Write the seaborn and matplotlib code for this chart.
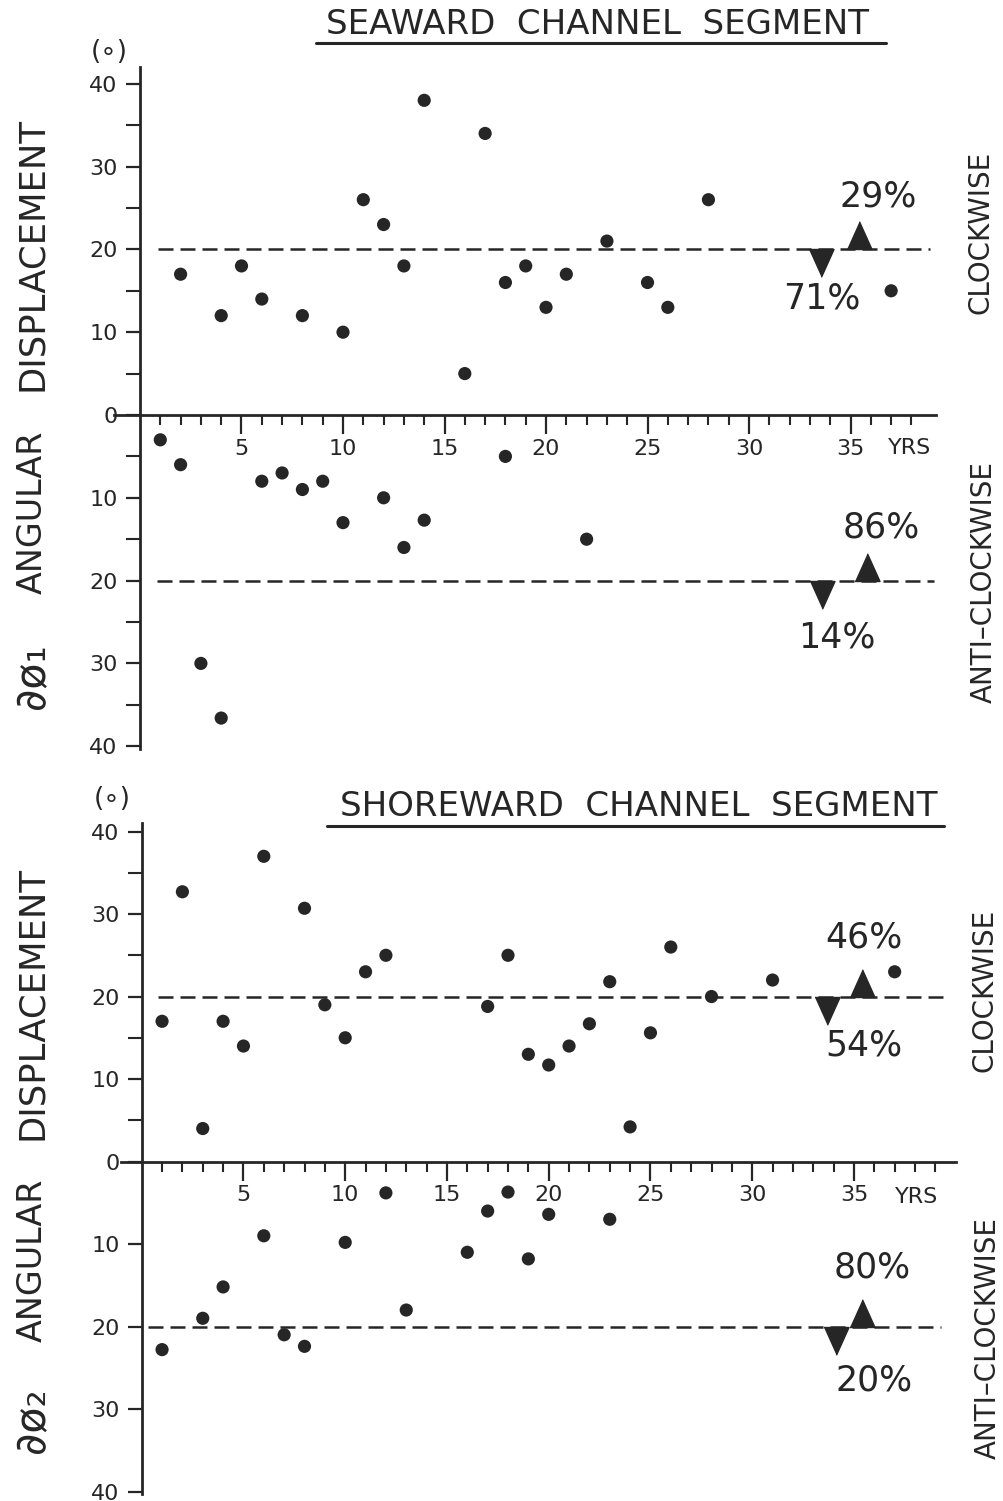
import numpy as np
import pandas as pd
import matplotlib
matplotlib.use("Agg")
import matplotlib.pyplot as plt
import seaborn as sns
from matplotlib.lines import Line2D
from matplotlib.ticker import FixedLocator, FuncFormatter

# ---------------- data (degrees) ----------------
sea_cw_years = [2, 4, 5, 6, 8, 10, 11, 12, 13, 14, 16, 17, 18, 19, 20, 21, 23, 25, 26, 28, 37]
sea_cw_deg = [17, 12, 18, 14, 12, 10, 26, 23, 18, 38, 5, 34, 16, 18, 13, 17, 21, 16, 13, 26, 15]
sea_acw_years = [1, 2, 3, 4, 6, 7, 8, 9, 10, 12, 13, 14, 18, 22]
sea_acw_deg = [3, 6, 30, 36.6, 8, 7, 9, 8, 13, 10, 16, 12.7, 5, 15]

shore_cw_years = [1, 2, 3, 4, 5, 6, 8, 9, 10, 11, 12, 17, 18, 19, 20, 21, 22, 23, 24, 25, 26, 28, 31, 37]
shore_cw_deg = [17, 32.7, 4, 17, 14, 37, 30.7, 19, 15, 23, 25, 18.8, 25, 13, 11.7, 14, 16.7,
                21.8, 4.2, 15.6, 26, 20, 22, 23]
shore_acw_years = [1, 3, 4, 6, 7, 8, 10, 12, 13, 16, 17, 18, 19, 20, 23]
shore_acw_deg = [22.8, 19, 15.2, 9, 21, 22.4, 9.8, 3.8, 18, 11, 6, 3.7, 11.8, 6.4, 7]

threshold = 20
sea_pct = ["29%", "71%", "86%", "14%"]
shore_pct = ["46%", "54%", "80%", "20%"]
titles = ["SEAWARD  CHANNEL  SEGMENT", "SHOREWARD  CHANNEL  SEGMENT"]
ylabel_sym = ["\u2202\u00f8\u2081", "\u2202\u00f8\u2082"]
x_major = [5, 10, 15, 20, 25, 30, 35]
y_major = [-40, -30, -20, -10, 0, 10, 20, 30, 40]

# ---------------- style ----------------
INK = "#262626"
sns.set_style("white")
plt.rcParams["font.family"] = ["DejaVu Sans"]
plt.rcParams["text.color"] = INK

W, H = 1004, 1501
fig = plt.figure(figsize=(W / 100, H / 100), dpi=100)


def fx(px):
    return px / W


def fy(py):
    return 1 - py / H


panels = [
    dict(cw_x=sea_cw_years, cw_y=sea_cw_deg, acw_x=sea_acw_years, acw_y=sea_acw_deg,
         pct=sea_pct, title=titles[0], sym=ylabel_sym[0],
         xlim=(-1.3, 39.2), ylim=(-40.3, 42), px_l=113.6, px_r=935.8, py_t=67.2, py_b=748.7,
         minor_x=[v for v in range(1, 39) if v % 5], low_minor=True,
         cw_line=(0.9, 38.9), acw_line=(0.85, 39.1),
         down_x=[33.55, 33.6], up_x=[35.4, 35.8],
         pct_pos=[(36.35, 26.4), (33.6, 14.1), (36.5, -13.6), (34.3, -26.9)],
         yrs_pos=(37.9, -4.0),
         title_px=(598, 25), uline=(316, 886, 43), unit_px=(109, 52),
         lab_disp=(32, 254), lab_ang=(32, 512), lab_sym=(32, 676),
         right_cw=(981, 232), right_acw=(984, 582)),
    dict(cw_x=shore_cw_years, cw_y=shore_cw_deg, acw_x=shore_acw_years, acw_y=shore_acw_deg,
         pct=shore_pct, title=titles[1], sym=ylabel_sym[1],
         xlim=(-1.0, 40.0), ylim=(-40.3, 41), px_l=121.35, px_r=955.7, py_t=823.3, py_b=1494.0,
         minor_x=[v for v in range(1, 40) if v % 5], low_minor=False,
         cw_line=(0.8, 39.4), acw_line=(0.3, 39.3),
         down_x=[33.7, 34.1], up_x=[35.4, 35.4],
         pct_pos=[(35.5, 27.1), (35.5, 14.1), (35.9, -12.9), (36.0, -26.6)],
         yrs_pos=(38.1, -4.3),
         title_px=(639, 806), uline=(327, 944, 826), unit_px=(112, 799),
         lab_disp=(32, 1003), lab_ang=(32, 1260), lab_sym=(32, 1420),
         right_cw=(985, 990), right_acw=(988, 1338)),
]

up_marker = [(-0.45, 0), (0.45, 0), (0, 1)]
down_marker = [(-0.45, 0), (0.45, 0), (0, -1)]

for p in panels:
    ax = fig.add_axes([fx(p["px_l"]), fy(p["py_b"]),
                       fx(p["px_r"] - p["px_l"]), (p["py_b"] - p["py_t"]) / H])
    ax.set_facecolor("none")

    df = pd.DataFrame({
        "year": list(p["cw_x"]) + list(p["acw_x"]),
        "signed": list(p["cw_y"]) + [-v for v in p["acw_y"]],
    })
    sns.scatterplot(data=df, x="year", y="signed", color=INK, s=90,
                    edgecolor="none", ax=ax, legend=False, zorder=4)

    ax.set_xlim(*p["xlim"])
    ax.set_ylim(*p["ylim"])
    ax.set_xlabel("")
    ax.set_ylabel("")

    for side in ["top", "right"]:
        ax.spines[side].set_visible(False)
    ax.spines["left"].set_position(("data", 0))
    ax.spines["bottom"].set_position(("data", 0))
    for side in ["left", "bottom"]:
        ax.spines[side].set_linewidth(2.0)
        ax.spines[side].set_color(INK)

    # ticks
    ax.xaxis.set_major_locator(FixedLocator(x_major))
    ax.xaxis.set_minor_locator(FixedLocator(p["minor_x"]))
    ax.yaxis.set_major_locator(FixedLocator(y_major))
    ymin = [5, 15, 25, 35]
    if p["low_minor"]:
        ymin = ymin + [-5, -15, -25, -35]
    ax.yaxis.set_minor_locator(FixedLocator(ymin))
    ax.yaxis.set_major_formatter(FuncFormatter(lambda v, pos: f"{abs(int(round(v)))}"))
    ax.tick_params(axis="x", which="both", bottom=True, top=False)
    ax.tick_params(axis="y", which="both", left=True, right=False)
    ax.tick_params(axis="x", which="major", direction="out", length=14, width=1.6,
                   color=INK, labelsize=16, labelcolor=INK, pad=3)
    ax.tick_params(axis="x", which="minor", direction="out", length=7, width=1.5, color=INK)
    ax.tick_params(axis="y", which="major", direction="out", length=10, width=1.6,
                   color=INK, labelsize=16, labelcolor=INK, pad=6)
    ax.tick_params(axis="y", which="minor", direction="out", length=10, width=1.5, color=INK)

    # threshold lines
    ax.hlines(threshold, *p["cw_line"], colors=INK, linewidth=1.8,
              linestyles=(0, (6, 2.8)), zorder=2)
    ax.hlines(-threshold, *p["acw_line"], colors=INK, linewidth=1.8,
              linestyles=(0, (6, 2.8)), zorder=2)

    # proportion arrows
    ax.plot([p["down_x"][0]], [threshold], marker=down_marker, markersize=40,
            color=INK, linestyle="none", zorder=5)
    ax.plot([p["up_x"][0]], [threshold], marker=up_marker, markersize=40,
            color=INK, linestyle="none", zorder=5)
    ax.plot([p["down_x"][1]], [-threshold], marker=down_marker, markersize=40,
            color=INK, linestyle="none", zorder=5)
    ax.plot([p["up_x"][1]], [-threshold], marker=up_marker, markersize=40,
            color=INK, linestyle="none", zorder=5)

    for label, (tx, ty) in zip(p["pct"], p["pct_pos"]):
        ax.text(tx, ty, label, fontsize=25, ha="center", va="center", color=INK)

    ax.text(p["yrs_pos"][0], p["yrs_pos"][1], "YRS", fontsize=16, ha="center",
            va="center", color=INK)

    # figure-level annotations
    fig.text(fx(p["title_px"][0]), fy(p["title_px"][1]), p["title"], fontsize=24.5,
             ha="center", va="center", color=INK)
    x0, x1, yl = p["uline"]
    fig.add_artist(Line2D([fx(x0), fx(x1)], [fy(yl), fy(yl)], color=INK, linewidth=2.2))
    fig.text(fx(p["unit_px"][0]), fy(p["unit_px"][1]), "(\u2218)", fontsize=19,
             ha="center", va="center", color=INK)
    fig.text(fx(p["lab_disp"][0]), fy(p["lab_disp"][1]), "DISPLACEMENT", fontsize=25.5,
             rotation=90, ha="center", va="center", color=INK)
    fig.text(fx(p["lab_ang"][0]), fy(p["lab_ang"][1]), "ANGULAR", fontsize=24,
             rotation=90, ha="center", va="center", color=INK)
    fig.text(fx(p["lab_sym"][0]), fy(p["lab_sym"][1]), p["sym"], fontsize=31,
             rotation=90, ha="center", va="center", color=INK)
    fig.text(fx(p["right_cw"][0]), fy(p["right_cw"][1]), "CLOCKWISE", fontsize=20,
             rotation=90, ha="center", va="center", color=INK)
    fig.text(fx(p["right_acw"][0]), fy(p["right_acw"][1]), "ANTI\u2013CLOCKWISE", fontsize=20,
             rotation=90, ha="center", va="center", color=INK)

fig.savefig("out.png", dpi=100, facecolor="white")
